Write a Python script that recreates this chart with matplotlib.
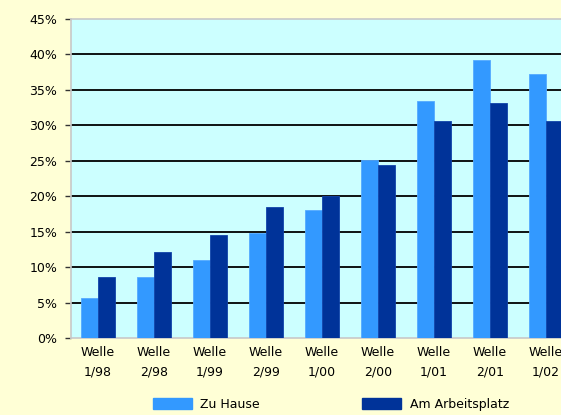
import numpy as np
import matplotlib.pyplot as plt
from matplotlib.patches import Patch
from matplotlib.ticker import FuncFormatter

categories = ["Welle\n1/98", "Welle\n2/98", "Welle\n1/99", "Welle\n2/99", "Welle\n1/00",
              "Welle\n2/00", "Welle\n1/01", "Welle\n2/01", "Welle\n1/02"]
zu_hause = [5.7, 8.6, 11.0, 14.8, 18.0, 25.1, 33.4, 39.2, 37.2]
arbeitsplatz = [8.6, 12.1, 14.5, 18.5, 20.0, 24.4, 30.6, 33.1, 30.6]

plt.rcParams["font.family"] = ["DejaVu Sans"]

C_HOME, C_WORK = "#3399FF", "#003399"

W, H = 561, 415
fig = plt.figure(figsize=(W / 100, H / 100), dpi=100, facecolor="#FFFFD6")
# plot area runs past the right edge of the image, like the reference
ax = fig.add_axes([71 / W, 1 - 338 / H, (575 - 71) / W, (338 - 19) / H])
ax.set_facecolor("#CCFFFF")

x = np.arange(len(categories))
bw = 0.30
ax.bar(x - bw / 2, zu_hause, bw, color=C_HOME, edgecolor="#55AAFF", lw=0.6, zorder=3)
ax.bar(x + bw / 2, arbeitsplatz, bw, color=C_WORK, edgecolor="#1144AA", lw=0.6, zorder=3)

ax.set_ylim(0, 45)
ax.set_xlim(-0.48, 8.52)
ax.set_yticks(np.arange(0, 46, 5))
ax.yaxis.set_major_formatter(FuncFormatter(lambda v, p: f"{v:.0f}%"))
for yv in range(5, 45, 5):
    ax.axhline(yv, color="black", lw=1.3, zorder=2)

ax.set_xticks(x)
ax.set_xticklabels(categories, fontsize=9, linespacing=1.6)
ax.tick_params(axis="x", length=0, pad=6)
ax.tick_params(axis="y", length=4, width=1, color="#333333", labelsize=9, pad=6)

for s in ["left", "top", "bottom"]:
    ax.spines[s].set_color("#C8C8C8")
    ax.spines[s].set_linewidth(1.2)
ax.spines["right"].set_visible(False)

leg_kw = dict(loc="center left", frameon=False, fontsize=9, handlelength=3.1,
              handleheight=1.0, handletextpad=0.7, borderpad=0, borderaxespad=0)
fig.legend(handles=[Patch(color=C_HOME, label="Zu Hause")],
           bbox_to_anchor=(153 / W, 1 - 404 / H), **leg_kw)
fig.legend(handles=[Patch(color=C_WORK, label="Am Arbeitsplatz")],
           bbox_to_anchor=(362 / W, 1 - 404 / H), **leg_kw)

fig.savefig("out.png", dpi=100, facecolor=fig.get_facecolor())
